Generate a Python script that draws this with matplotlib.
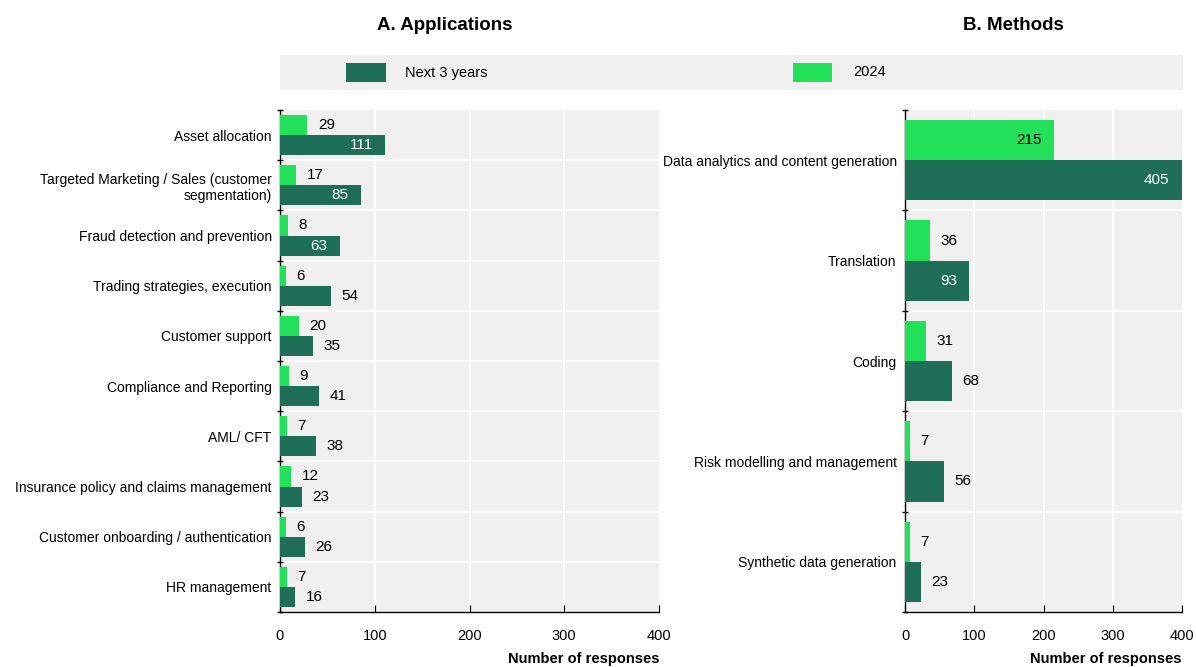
import numpy as np
import matplotlib
matplotlib.use("Agg")
import matplotlib.pyplot as plt
from matplotlib.patches import Rectangle

plt.rcParams['font.family'] = ['Liberation Sans', 'DejaVu Sans']

# data
app_labels = ["Asset allocation",
              "Targeted Marketing / Sales (customer\nsegmentation)",
              "Fraud detection and prevention",
              "Trading strategies, execution",
              "Customer support",
              "Compliance and Reporting",
              "AML/ CFT",
              "Insurance policy and claims management",
              "Customer onboarding / authentication",
              "HR management"]
app_2024 = [29, 17, 8, 6, 20, 9, 7, 12, 6, 7]
app_next3 = [111, 85, 63, 54, 35, 41, 38, 23, 26, 16]

meth_labels = ["Data analytics and content generation",
               "Translation",
               "Coding",
               "Risk modelling and management",
               "Synthetic data generation"]
meth_2024 = [215, 36, 31, 7, 7]
meth_next3 = [405, 93, 68, 56, 23]

xmax = 400
xticks = [0, 100, 200, 300, 400]

c_dark = "#1f6e58"
c_light = "#22e05a"
bg = "#f0f0f0"
W, H = 1196, 667

fig = plt.figure(figsize=(W / 100, H / 100), dpi=100)


def panel(rect, labels, v24, vnext, title, title_x):
    ax = fig.add_axes(rect)
    ax.set_facecolor(bg)
    n = len(labels)
    y = np.arange(n)
    h = 0.4
    ax.barh(y - 0.2, v24, height=h, color=c_light, zorder=3)
    ax.barh(y + 0.2, np.minimum(vnext, xmax), height=h, color=c_dark, zorder=3)
    ax.set_xlim(0, xmax)
    ax.set_ylim(n - 0.5, -0.5)
    ax_px = rect[2] * W
    for vals, off, incol in [(v24, -0.2, "black"), (vnext, 0.2, "white")]:
        for i, v in enumerate(vals):
            vv = min(v, xmax)
            if vv / xmax * ax_px > 55:
                ax.annotate(str(v), (vv, i + off), xytext=(-9, 0), textcoords="offset points",
                            ha="right", va="center", color=incol, fontsize=11, zorder=4)
            else:
                ax.annotate(str(v), (vv, i + off), xytext=(7.5, 0), textcoords="offset points",
                            ha="left", va="center", color="black", fontsize=11, zorder=4)
    # grid
    for xt in xticks[1:-1]:
        ax.axvline(xt, color="white", lw=1.2, zorder=1)
    for b in np.arange(n - 1) + 0.5:
        ax.axhline(b, color="white", lw=1.2, zorder=1)
    ax.set_yticks(y)
    ax.set_yticklabels(labels, fontsize=10)
    ax.tick_params(axis="y", length=0, pad=6)
    ax.set_yticks(np.arange(n + 1) - 0.5, minor=True)
    ax.tick_params(axis="y", which="minor", length=5, direction="inout", width=1)
    ax.set_xticks(xticks)
    ax.tick_params(axis="x", direction="in", length=5, labelsize=10.5, pad=12)
    for s in ["top", "right"]:
        ax.spines[s].set_visible(False)
    for s in ["left", "bottom"]:
        ax.spines[s].set_color("black")
        ax.spines[s].set_linewidth(1)
    fig.text(rect[0] + rect[2], 0.002, "Number of responses", ha="right", va="bottom",
             fontsize=10.5, fontweight="bold")
    fig.text(title_x, 0.962, title, ha="center", va="center", fontsize=13.5, fontweight="bold")
    return ax


panel([280 / W, 1 - 612 / H, 379 / W, 502 / H], app_labels, app_2024, app_next3,
      "A. Applications", 445 / W)
panel([905 / W, 1 - 612 / H, 277 / W, 502 / H], meth_labels, meth_2024, meth_next3,
      "B. Methods", 1013 / W)

# legend band
fig.patches.append(Rectangle((280 / W, 1 - 90 / H), 903 / W, 35 / H, transform=fig.transFigure,
                             facecolor=bg, edgecolor="none"))
fig.patches.append(Rectangle((346 / W, 1 - 82 / H), 40 / W, 19 / H, transform=fig.transFigure,
                             facecolor=c_dark, edgecolor="none"))
fig.text(405 / W, 1 - 72.5 / H, "Next 3 years", ha="left", va="center", fontsize=10.5)
fig.patches.append(Rectangle((793 / W, 1 - 82 / H), 39 / W, 19 / H, transform=fig.transFigure,
                             facecolor=c_light, edgecolor="none"))
fig.text(853 / W, 1 - 72.5 / H, "2024", ha="left", va="center", fontsize=10.5)

fig.savefig("out.png", dpi=100)
